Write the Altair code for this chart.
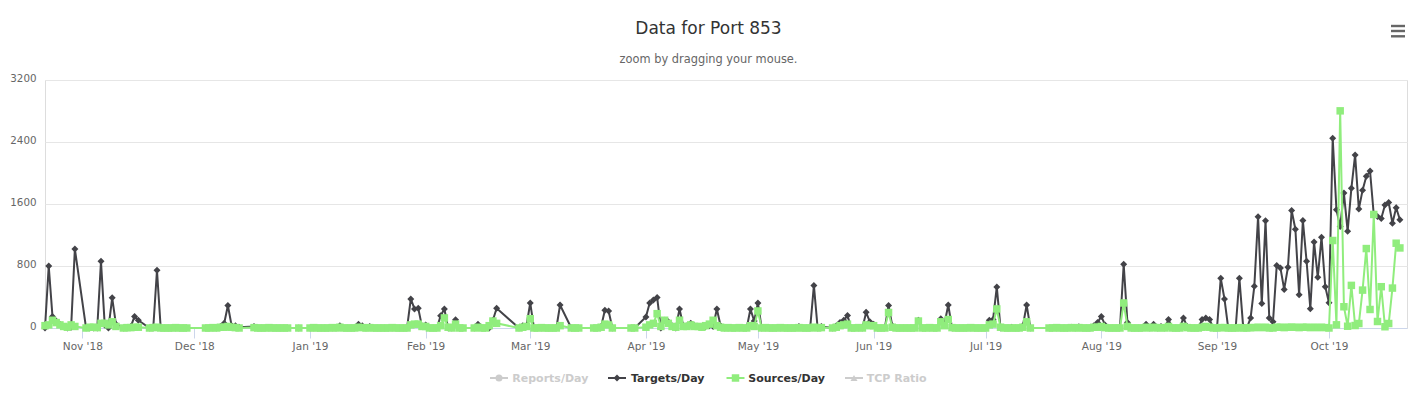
import altair as alt
import pandas as pd

# ---------------- data (day of month, Targets/Day, Sources/Day)
oct18_days    = [22, 23, 24, 25, 26, 27, 28, 29, 30]
oct18_targets = [0, 800, 150, 90, 50, 20, 0, 10, 1020]
oct18_sources = [30, 40, 100, 70, 40, 20, 10, 40, 20]

nov18_days    = [2, 3, 4, 5, 6, 7, 8, 9, 10, 12, 13, 14, 15, 16, 19, 20, 21, 22, 23, 24, 25, 26, 27, 28, 29]
nov18_targets = [0, 0, 0, 0, 860, 40, 0, 390, 50, 0, 0, 20, 150, 100, 0, 0, 745, 0, 0, 0, 0, 0, 0, 0, 0]
nov18_sources = [0, 10, 10, 5, 60, 60, 40, 80, 20, 0, 5, 5, 10, 10, 0, 5, 10, 0, 0, 0, 0, 5, 0, 0, 0]

dec18_days    = [4, 5, 6, 7, 8, 9, 10, 11, 12, 13, 17, 18, 19, 20, 21, 22, 23, 24, 25, 26, 29]
dec18_targets = [0, 0, 0, 0, 20, 60, 290, 30, 30, 10, 20, 0, 0, 0, 0, 0, 0, 0, 0, 0, 0]
dec18_sources = [0, 0, 5, 0, 10, 10, 20, 10, 5, 0, 5, 0, 0, 0, 5, 0, 0, 0, 0, 0, 0]

jan19_days    = [1, 2, 3, 4, 5, 6, 7, 8, 9, 10, 11, 12, 13, 14, 15, 16, 17, 18, 19, 20,
                 21, 22, 23, 24, 25, 26, 27, 28, 29, 30, 31]
jan19_targets = [0, 0, 0, 0, 0, 0, 0, 0, 30, 0, 0, 0, 0, 50, 30, 0, 20, 0, 0, 0,
                 0, 0, 0, 0, 0, 0, 0, 375, 246, 254, 20]
jan19_sources = [0, 5, 0, 0, 0, 0, 5, 0, 10, 0, 0, 0, 0, 10, 5, 0, 5, 0, 0, 0,
                 0, 0, 5, 0, 0, 0, 0, 40, 50, 50, 20]

feb19_days    = [1, 2, 3, 4, 5, 6, 7, 8, 9, 10, 11, 14, 15, 16, 17, 18, 19, 20, 26, 27, 28]
feb19_targets = [40, 0, 0, 0, 159, 246, 0, 0, 107, 0, 0, 0, 50, 0, 0, 0, 100, 254, 0, 30, 30]
feb19_sources = [20, 0, 0, 0, 30, 130, 10, 0, 50, 0, 0, 0, 10, 0, 0, 30, 90, 60, 0, 10, 20]

mar19_days    = [1, 2, 3, 4, 5, 6, 7, 8, 9, 12, 13, 14, 18, 19, 20, 21, 22, 23, 28, 29]
mar19_targets = [323, 0, 0, 0, 0, 0, 0, 0, 297, 0, 0, 0, 0, 0, 20, 230, 220, 0, 0, 0]
mar19_sources = [120, 0, 0, 5, 0, 0, 0, 0, 30, 0, 0, 0, 0, 0, 10, 50, 40, 0, 0, 0]

apr19_days    = [1, 2, 3, 4, 5, 6, 7, 8, 9, 10, 11, 12, 13, 14, 15, 16, 17, 18, 19, 20,
                 21, 22, 23, 24, 25, 26, 27, 28, 29, 30]
apr19_targets = [143, 323, 360, 395, 0, 100, 80, 30, 0, 246, 30, 30, 60, 30, 20, 10, 20, 30, 20, 246,
                 30, 0, 0, 0, 0, 0, 0, 0, 246, 90]
apr19_sources = [10, 40, 60, 185, 20, 100, 60, 20, 10, 100, 20, 20, 40, 20, 20, 10, 30, 50, 100, 30,
                 10, 0, 5, 0, 0, 5, 0, 0, 30, 20]

may19_days    = [1, 2, 3, 4, 5, 6, 7, 8, 9, 10, 11, 12, 13, 14, 15, 16, 17, 18,
                 21, 22, 23, 24, 25, 26, 27, 28, 29, 30, 31]
may19_targets = [323, 0, 0, 0, 0, 0, 0, 0, 0, 0, 0, 20, 0, 0, 0, 550, 0, 20,
                 0, 30, 70, 100, 160, 0, 0, 0, 0, 202, 80]
may19_sources = [220, 0, 5, 0, 0, 0, 5, 0, 0, 0, 0, 5, 0, 0, 0, 10, 0, 5,
                 0, 10, 30, 40, 50, 0, 0, 5, 0, 40, 30]

jun19_days    = [1, 2, 3, 4, 5, 6, 7, 8, 9, 10, 11, 12, 13, 14, 15, 16, 17, 18, 19, 20,
                 21, 22, 23, 24, 25, 26, 27, 28, 29, 30]
jun19_targets = [50, 0, 0, 0, 290, 30, 0, 0, 0, 0, 0, 0, 100, 0, 0, 0, 0, 0, 120, 60,
                 297, 0, 0, 0, 0, 0, 0, 0, 0, 0]
jun19_sources = [30, 0, 0, 0, 200, 10, 0, 0, 0, 0, 0, 0, 90, 0, 0, 5, 0, 0, 80, 30,
                 110, 5, 0, 0, 0, 0, 5, 0, 0, 0]

jul19_days    = [1, 2, 3, 4, 5, 6, 7, 8, 9, 10, 11, 12, 13,
                 18, 19, 20, 21, 22, 23, 24, 25, 26, 27, 28, 29, 30, 31]
jul19_targets = [0, 100, 110, 530, 0, 0, 0, 10, 0, 0, 30, 297, 0,
                 0, 0, 0, 0, 0, 0, 10, 0, 15, 0, 0, 0, 30, 70]
jul19_sources = [0, 40, 50, 246, 10, 0, 0, 0, 0, 0, 10, 80, 0,
                 0, 0, 5, 0, 0, 0, 5, 0, 5, 0, 0, 0, 10, 10]

aug19_days    = [1, 2, 3, 4, 5, 6, 7, 8, 9, 10, 11, 12, 13, 14, 15, 16, 17, 18, 19, 20,
                 21, 22, 23, 24, 25, 26, 27, 28, 29, 30, 31]
aug19_targets = [150, 40, 0, 0, 0, 0, 823, 70, 0, 0, 0, 0, 50, 0, 50, 0, 20, 0, 110, 0,
                 0, 0, 130, 20, 0, 0, 0, 110, 130, 110, 0]
aug19_sources = [20, 5, 0, 0, 0, 0, 323, 20, 0, 0, 0, 0, 10, 0, 10, 0, 5, 0, 20, 0,
                 0, 0, 20, 5, 0, 0, 0, 10, 20, 10, 0]

sep19_days    = [1, 2, 3, 4, 5, 6, 7, 8, 9, 10, 11, 12, 13, 14, 15, 16, 17, 18, 19, 20,
                 21, 22, 23, 24, 25, 26, 27, 28, 29, 30]
sep19_targets = [0, 642, 375, 0, 0, 0, 642, 20, 0, 130, 539, 1437, 315, 1383, 130, 80, 805, 774, 498, 783,
                 1517, 1275, 430, 1388, 861, 248, 1111, 654, 1172, 533]
sep19_sources = [0, 5, 5, 0, 0, 0, 5, 0, 0, 5, 5, 10, 5, 10, 0, 0, 10, 10, 5, 10,
                 10, 10, 5, 10, 10, 5, 10, 5, 10, 5]

oct19_days    = [1, 2, 3, 4, 5, 6, 7, 8, 9, 10, 11, 12, 13, 14, 15, 16, 17, 18, 19, 20]
oct19_targets = [326, 2449, 1525, 1310, 1741, 1249, 1802, 2233, 1534, 1779,
                 1957, 2026, 1460, 1440, 1413, 1586, 1620, 1353, 1551, 1396]
oct19_sources = [0, 1129, 41, 2802, 274, 23, 550, 32, 58, 489,
                 1025, 239, 1465, 84, 533, 16, 58, 515, 1094, 1033]

month_blocks = [
    (2018, 10, oct18_days, oct18_targets, oct18_sources),
    (2018, 11, nov18_days, nov18_targets, nov18_sources),
    (2018, 12, dec18_days, dec18_targets, dec18_sources),
    (2019, 1, jan19_days, jan19_targets, jan19_sources),
    (2019, 2, feb19_days, feb19_targets, feb19_sources),
    (2019, 3, mar19_days, mar19_targets, mar19_sources),
    (2019, 4, apr19_days, apr19_targets, apr19_sources),
    (2019, 5, may19_days, may19_targets, may19_sources),
    (2019, 6, jun19_days, jun19_targets, jun19_sources),
    (2019, 7, jul19_days, jul19_targets, jul19_sources),
    (2019, 8, aug19_days, aug19_targets, aug19_sources),
    (2019, 9, sep19_days, sep19_targets, sep19_sources),
    (2019, 10, oct19_days, oct19_targets, oct19_sources),
]

y_ticks = [0, 800, 1600, 2400, 3200]
x_tick_months = [(2018, 11), (2018, 12), (2019, 1), (2019, 2), (2019, 3), (2019, 4),
                 (2019, 5), (2019, 6), (2019, 7), (2019, 8), (2019, 9), (2019, 10)]

legend_labels = ["Reports/Day", "Targets/Day", "Sources/Day", "TCP Ratio"]
legend_symbol_colors = ["#cccccc", "#434348", "#90ed7d", "#cccccc"]
legend_text_colors = ["#cccccc", "#333333", "#333333", "#cccccc"]
legend_shapes = ["circle", "diamond", "square", "triangle-up"]

TITLE = "Data for Port 853"
SUBTITLE = "zoom by dragging your mouse."

# ---------------- build table
rows = []
for yr, mo, days, tv, sv in month_blocks:
    assert len(days) == len(tv) == len(sv), (yr, mo)
    for d, t, s in zip(days, tv, sv):
        stamp = f"{yr:04d}-{mo:02d}-{d:02d}T00:00:00"
        rows.append({"date": stamp, "series": "Targets/Day", "value": t})
        rows.append({"date": stamp, "series": "Sources/Day", "value": s})
df = pd.DataFrame(rows)

W, H = 1362, 248
FONT = "DejaVu Sans"

x_enc = alt.X(
    "date:T", title=None,
    scale=alt.Scale(domain=[alt.DateTime(year=2018, month=10, date=22),
                            alt.DateTime(year=2019, month=10, date=21, hours=21, minutes=40)]),
    axis=alt.Axis(values=[alt.DateTime(year=y, month=m, date=1) for y, m in x_tick_months],
                  format="%b '%y", grid=False, domainColor="#ccd6eb", domainWidth=1,
                  tickColor="#ccd6eb", tickSize=10, tickWidth=1, labelColor="#666666",
                  labelFontSize=10.5, labelPadding=3, labelFlush=False, labelOverlap=False,
                  labelFont=FONT),
)
y_enc = alt.Y(
    "value:Q", title=None,
    scale=alt.Scale(domain=[0, 3200], nice=False, zero=True),
    axis=alt.Axis(values=y_ticks, format="d", grid=True, gridColor="#e6e6e6", gridWidth=1,
                  domain=False, ticks=False, labelColor="#666666", labelFontSize=10.3,
                  labelPadding=9, labelOffset=-1.5, labelFont=FONT),
)

base = alt.Chart(df).encode(x=x_enc, y=y_enc)
t_data = base.transform_filter(alt.datum.series == "Targets/Day")
s_data = base.transform_filter(alt.datum.series == "Sources/Day")

t_line = t_data.mark_line(color="#434348", strokeWidth=2)
t_pts = t_data.mark_point(shape="diamond", filled=True, size=49, color="#434348", opacity=1)
s_line = s_data.mark_line(color="#90ed7d", strokeWidth=2)
s_pts = s_data.mark_point(shape="square", filled=True, size=56, color="#90ed7d", opacity=1)

one = alt.Data(values=[{"k": 1}])

title_mark = alt.Chart(one).mark_text(
    text=TITLE, font=FONT, fontSize=17, color="#333333", align="center", baseline="alphabetic"
).encode(x=alt.value(663.5), y=alt.value(-46))
subtitle_mark = alt.Chart(one).mark_text(
    text=SUBTITLE, font=FONT, fontSize=11.4, color="#666666", align="center", baseline="alphabetic"
).encode(x=alt.value(663.5), y=alt.value(-17.5))

menu_layers = [
    alt.Chart(one).mark_rule(color="#666666", strokeWidth=2.4).encode(
        x=alt.value(1346), x2=alt.value(1360), y=alt.value(yy))
    for yy in (-54, -49, -43.7)
]

legend_layers = []
sym_x = [454, 572, 690.5, 809]
txt_x = [467.3, 586, 703.3, 821.7]
for lab, sc, tc, shp, sx, tx in zip(legend_labels, legend_symbol_colors, legend_text_colors,
                                    legend_shapes, sym_x, txt_x):
    legend_layers.append(alt.Chart(one).mark_rule(color=sc, strokeWidth=2).encode(
        x=alt.value(sx - 9), x2=alt.value(sx + 9), y=alt.value(298)))
    legend_layers.append(alt.Chart(one).mark_point(
        shape=shp, filled=True, size=49 if shp != "square" else 56, color=sc, opacity=1).encode(
        x=alt.value(sx), y=alt.value(298)))
    legend_layers.append(alt.Chart(one).mark_text(
        text=lab, font=FONT, fontSize=11, fontWeight="bold", color=tc, align="left",
        baseline="alphabetic").encode(x=alt.value(tx), y=alt.value(302)))

chart = alt.layer(
    t_line, t_pts, s_line, s_pts, title_mark, subtitle_mark, *menu_layers, *legend_layers
).properties(
    width=W, height=H,
    padding={"left": 37, "top": 72, "right": 2, "bottom": 58},
    autosize=alt.AutoSizeParams(type="none"),
).configure_view(stroke=None).configure(font=FONT, background="white")

chart.save("out.html", embed_options={"renderer": "svg", "actions": False})
